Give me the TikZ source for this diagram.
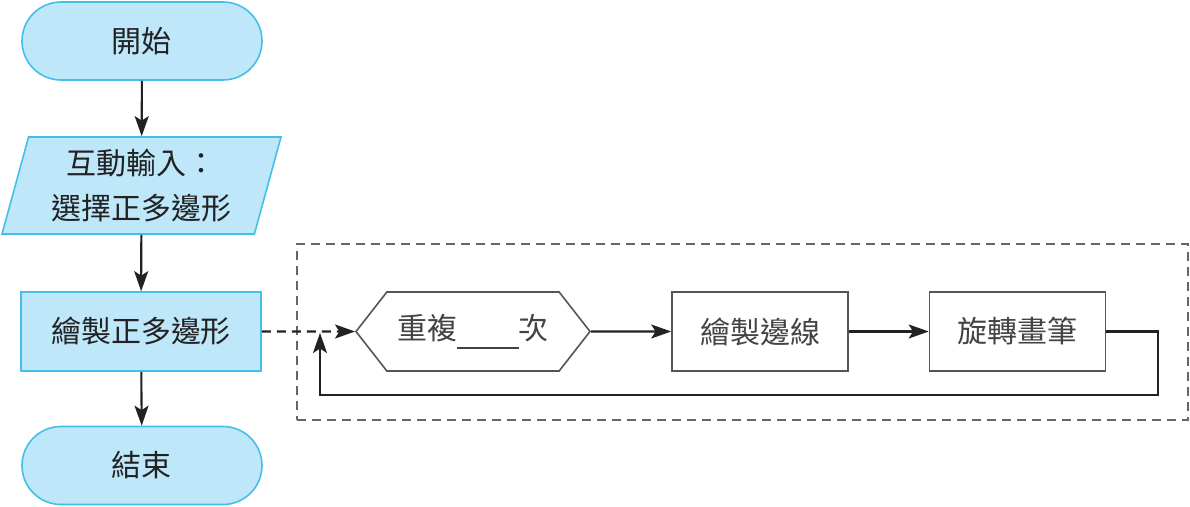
\documentclass[tikz,border=0pt]{standalone}
\usepackage{fontspec}
\setmainfont{Noto Sans CJK TC}
\usetikzlibrary{arrows.meta, positioning, shapes.geometric, shapes.symbols}
\definecolor{flowfill}{HTML}{BEE7FA}
\definecolor{flowline}{HTML}{45BFE8}
\definecolor{boxline}{HTML}{555555}
\definecolor{frameline}{HTML}{666666}
\definecolor{inktext}{HTML}{222222}
\tikzset{
    flowterm/.style={rectangle, rounded corners=19.5pt, fill=flowfill, draw=flowline, line width=0.8pt, minimum width=120pt, minimum height=39pt, inner sep=0pt, text=inktext, font=\fontsize{15}{22.5}\selectfont},
    flowio/.style={trapezium, trapezium left angle=70, trapezium right angle=110, trapezium stretches body, fill=flowfill, draw=flowline, line width=0.8pt, minimum width=139.5pt, minimum height=48.5pt, inner sep=0pt, align=center, text=inktext, font=\fontsize{15}{22.5}\selectfont},
    flowproc/.style={rectangle, fill=flowfill, draw=flowline, line width=0.8pt, minimum width=120pt, minimum height=39.5pt, inner sep=0pt, text=inktext, font=\fontsize{15}{22.5}\selectfont},
    loopbox/.style={rectangle, draw=boxline, line width=0.8pt, minimum width=88pt, minimum height=39.5pt, inner sep=0pt, text=inktext!85, font=\fontsize{15}{22.5}\selectfont},
    loophex/.style={signal, signal to=west and east, signal pointer angle=104, draw=boxline, line width=0.8pt, minimum width=117pt, minimum height=39.5pt, inner sep=0pt, text=inktext!85, font=\fontsize{15}{22.5}\selectfont},
    groupframe/.style={rectangle, draw=frameline, line width=0.75pt, dash pattern=on 4.5pt off 3pt, minimum width=445.5pt, minimum height=88pt, inner sep=0pt},
    flowarrow/.style={-{Stealth[length=10pt,width=7pt,inset=2.2pt]}, line width=1.05pt, draw=inktext},
    dasharrow/.style={-{Stealth[length=10pt,width=7pt,inset=2.2pt]}, line width=1.05pt, draw=inktext, dash pattern=on 4.5pt off 3pt}
}

\begin{document}
\begin{tikzpicture}[x=0.5pt, y=-0.5pt]
    \useasboundingbox (0,0) rectangle (1190,507);

    % Main flow
    \node[flowterm] (start) at (142,41) {開始};
    \node[flowio] (input) at (141.5,185.5) {互動輸入：\\選擇正多邊形};
    \node[flowproc] (draw) at (141,331.5) {繪製正多邊形};
    \node[flowterm] (stop) at (142,465.5) {結束};

    \draw[flowarrow] (start) -- (input);
    \draw[flowarrow] (input) -- (draw);
    \draw[flowarrow] (draw) -- (stop);

    % Repeat loop
    \node[groupframe] (frame) at (742.5,332) {};
    \node[loophex] (repeat) at (473,331.5) {重複\rule[-0.3em]{2.05em}{1pt}次};
    \node[loopbox] (edge) at (760,331.5) {繪製邊線};
    \node[loopbox] (turn) at (1017.5,331.5) {旋轉畫筆};
    \coordinate (loopcorner) at (1158,395);
    \coordinate (loopin) at (320,333);

    \draw[dasharrow] (draw) -- (repeat);
    \draw[flowarrow] (repeat) -- (edge);
    \draw[flowarrow] (edge) -- (turn);
    \draw[flowarrow] (turn.east) -| (loopcorner) -| (loopin);
\end{tikzpicture}
\end{document}
